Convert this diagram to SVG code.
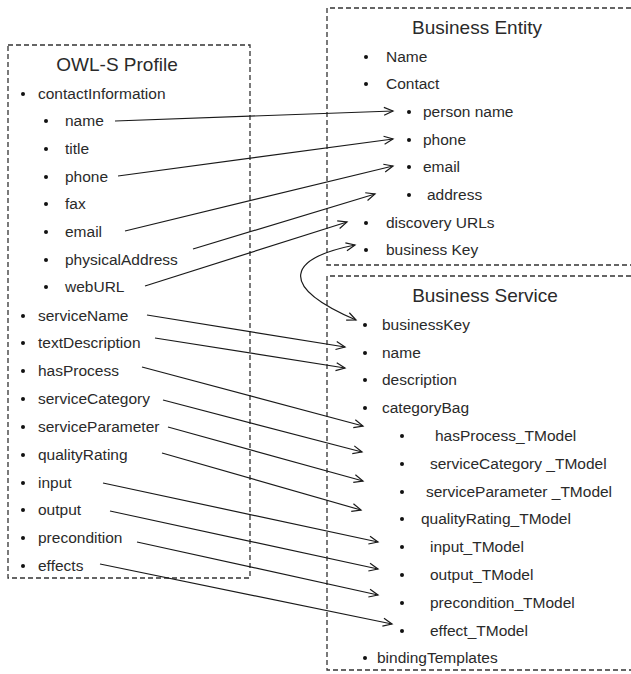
<svg xmlns="http://www.w3.org/2000/svg" width="631" height="674" viewBox="0 0 631 674">
  <defs>
    <style>
      .frame { fill: none; stroke: #333; stroke-width: 1.3; stroke-dasharray: 5 3; }
      .title { font-family: "Liberation Sans", Arial, sans-serif; font-size: 19px; fill: #2a2a2a; text-anchor: middle; }
      .item { font-family: "Liberation Sans", Arial, sans-serif; font-size: 15.5px; fill: #2a2a2a; }
      .dot { fill: #111; }
      .link { fill: none; stroke: #1a1a1a; stroke-width: 1.2; }
    </style>
    <!-- open chevron arrowhead -->
    <marker id="arrow" markerWidth="12" markerHeight="10" refX="10" refY="5" orient="auto-start-reverse" markerUnits="userSpaceOnUse">
      <path d="M1,1 L10,5 L1,9" fill="none" stroke="#1a1a1a" stroke-width="1.2"/>
    </marker>
  </defs>

  <rect width="631" height="674" fill="#fff"/>

  <!-- OWL-S Profile -->
  <g id="owl-s-profile">
    <rect class="frame" x="8" y="45" width="242" height="533"/>
    <text class="title" x="117" y="71">OWL-S Profile</text>
    <g class="dot">
      <circle cx="23" cy="94" r="2"/>
      <circle cx="46" cy="121" r="2"/>
      <circle cx="46" cy="149" r="2"/>
      <circle cx="46" cy="177" r="2"/>
      <circle cx="46" cy="204" r="2"/>
      <circle cx="46" cy="232" r="2"/>
      <circle cx="46" cy="260" r="2"/>
      <circle cx="46" cy="287" r="2"/>
      <circle cx="23" cy="316" r="2"/>
      <circle cx="23" cy="343" r="2"/>
      <circle cx="23" cy="371" r="2"/>
      <circle cx="23" cy="399" r="2"/>
      <circle cx="23" cy="427" r="2"/>
      <circle cx="23" cy="455" r="2"/>
      <circle cx="23" cy="483" r="2"/>
      <circle cx="23" cy="510" r="2"/>
      <circle cx="23" cy="538" r="2"/>
      <circle cx="23" cy="566" r="2"/>
    </g>
    <text class="item" x="38" y="99">contactInformation</text>
    <text class="item" x="65" y="126">name</text>
    <text class="item" x="65" y="154">title</text>
    <text class="item" x="65" y="182">phone</text>
    <text class="item" x="65" y="209">fax</text>
    <text class="item" x="65" y="237">email</text>
    <text class="item" x="65" y="265">physicalAddress</text>
    <text class="item" x="65" y="292">webURL</text>
    <text class="item" x="38" y="321">serviceName</text>
    <text class="item" x="38" y="348">textDescription</text>
    <text class="item" x="38" y="376">hasProcess</text>
    <text class="item" x="38" y="404">serviceCategory</text>
    <text class="item" x="38" y="432">serviceParameter</text>
    <text class="item" x="38" y="460">qualityRating</text>
    <text class="item" x="38" y="488">input</text>
    <text class="item" x="38" y="515">output</text>
    <text class="item" x="38" y="543">precondition</text>
    <text class="item" x="38" y="571">effects</text>
  </g>

  <!-- Business Entity (open to the right) -->
  <g id="business-entity">
    <path class="frame" d="M631,8 H327 V265 H631"/>
    <text class="title" x="477" y="34">Business Entity</text>
    <g class="dot">
      <circle cx="366" cy="57" r="2"/>
      <circle cx="366" cy="84" r="2"/>
      <circle cx="409" cy="112" r="2"/>
      <circle cx="409" cy="140" r="2"/>
      <circle cx="409" cy="167" r="2"/>
      <circle cx="409" cy="195" r="2"/>
      <circle cx="366" cy="223" r="2"/>
      <circle cx="366" cy="250" r="2"/>
    </g>
    <text class="item" x="386" y="62">Name</text>
    <text class="item" x="386" y="89">Contact</text>
    <text class="item" x="423" y="117">person name</text>
    <text class="item" x="423" y="145">phone</text>
    <text class="item" x="423" y="172">email</text>
    <text class="item" x="427" y="200">address</text>
    <text class="item" x="386" y="228">discovery URLs</text>
    <text class="item" x="386" y="255">business Key</text>
  </g>

  <!-- Business Service (open to the right) -->
  <g id="business-service">
    <path class="frame" d="M631,276 H327 V670 H631"/>
    <text class="title" x="485" y="302">Business Service</text>
    <g class="dot">
      <circle cx="365" cy="325" r="2"/>
      <circle cx="365" cy="353" r="2"/>
      <circle cx="365" cy="380" r="2"/>
      <circle cx="365" cy="408" r="2"/>
      <circle cx="402" cy="436" r="2"/>
      <circle cx="402" cy="464" r="2"/>
      <circle cx="402" cy="492" r="2"/>
      <circle cx="402" cy="519" r="2"/>
      <circle cx="402" cy="547" r="2"/>
      <circle cx="402" cy="575" r="2"/>
      <circle cx="402" cy="603" r="2"/>
      <circle cx="402" cy="631" r="2"/>
      <circle cx="365" cy="658" r="2"/>
    </g>
    <text class="item" x="382" y="330">businessKey</text>
    <text class="item" x="382" y="358">name</text>
    <text class="item" x="382" y="385">description</text>
    <text class="item" x="382" y="413">categoryBag</text>
    <text class="item" x="435" y="441">hasProcess_TModel</text>
    <text class="item" x="430" y="469">serviceCategory _TModel</text>
    <text class="item" x="426" y="497">serviceParameter _TModel</text>
    <text class="item" x="421" y="524">qualityRating_TModel</text>
    <text class="item" x="430" y="552">input_TModel</text>
    <text class="item" x="430" y="580">output_TModel</text>
    <text class="item" x="430" y="608">precondition_TModel</text>
    <text class="item" x="430" y="636">effect_TModel</text>
    <text class="item" x="377" y="663">bindingTemplates</text>
  </g>

  <!-- mappings -->
  <g id="connectors" class="link" marker-end="url(#arrow)">
    <line x1="115" y1="121" x2="393" y2="111"/>
    <line x1="118" y1="176" x2="393" y2="139"/>
    <line x1="125" y1="231" x2="393" y2="166"/>
    <line x1="193" y1="249" x2="375" y2="194"/>
    <line x1="145" y1="286" x2="347" y2="222"/>
    <line x1="147" y1="315" x2="345" y2="347"/>
    <line x1="155" y1="338" x2="345" y2="368"/>
    <line x1="142" y1="367" x2="363" y2="426"/>
    <line x1="163" y1="400" x2="362" y2="452"/>
    <line x1="168" y1="427" x2="363" y2="481"/>
    <line x1="162" y1="453" x2="361" y2="510"/>
    <line x1="103" y1="483" x2="378" y2="542"/>
    <line x1="110" y1="511" x2="378" y2="569"/>
    <line x1="137" y1="542" x2="378" y2="595"/>
    <line x1="100" y1="564" x2="392" y2="624"/>
    <path d="M355,245 C290,258 275,285 356,320" marker-start="url(#arrow)"/>
  </g>
</svg>
